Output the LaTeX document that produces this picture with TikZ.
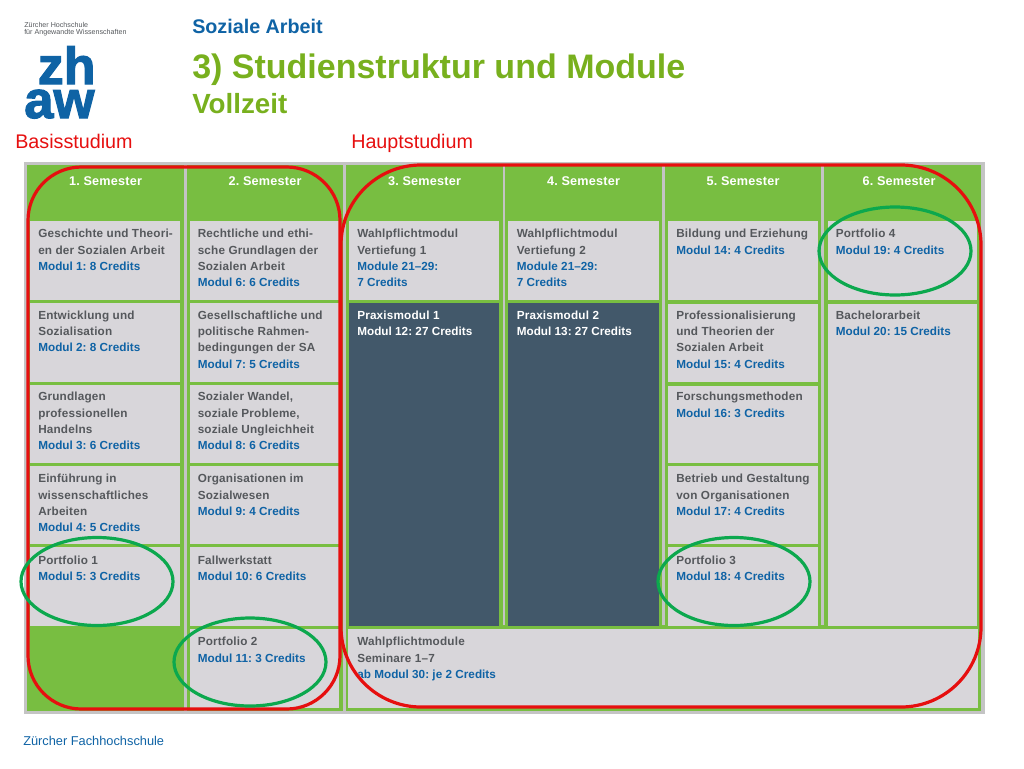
\documentclass[tikz,border=0pt]{standalone}
\usepackage{fontspec}
\setmainfont{Liberation Sans}
\newfontfamily\cellfont[LetterSpace=1.6]{Liberation Sans}
\newfontfamily\creditfont[LetterSpace=0.2]{Liberation Sans}
\newfontfamily\logofont[UprightFont=* Bold, FakeBold=2.2]{Liberation Sans}
\frenchspacing
\definecolor{gridgrey}{HTML}{C4C4C4}
\definecolor{cellgrey}{HTML}{D8D6DA}
\definecolor{headgreen}{HTML}{78BE41}
\definecolor{darkslate}{HTML}{42586A}
\definecolor{zhawblue}{HTML}{0F63A5}
\definecolor{titlegreen}{HTML}{78B01E}
\definecolor{textgrey}{HTML}{55585C}
\definecolor{ringgreen}{HTML}{0CA84E}
\definecolor{ringred}{HTML}{E60F0F}
\tikzset{
    headtext/.style={text=white, font=\cellfont\bfseries\fontsize{9.5}{11}\selectfont, anchor=center},
    celltext/.style={text=textgrey, font=\cellfont\bfseries\fontsize{8.8}{12.25}\selectfont, anchor=north west, align=left, inner sep=0pt},
    darktext/.style={celltext, text=white},
    ring/.style={draw=ringgreen, line width=2.4pt},
    block/.style={draw=ringred, line width=2.4pt},
}
\newcommand{\credits}[1]{{\creditfont\textcolor{zhawblue}{#1}}}
\begin{document}
\begin{tikzpicture}[x=0.75pt, y=-0.75pt]
    \useasboundingbox (0,0) rectangle (1024,768);
    % logo and titles
    \node[text=textgrey, font=\fontsize{5.35}{5.6}\selectfont, anchor=north west, align=left, inner sep=0pt] (school) at (24,22) {Zürcher Hochschule\\für Angewandte Wissenschaften};
    \node[text=zhawblue, font=\logofont\fontsize{39}{39}\selectfont, anchor=base west, inner sep=0pt] (logozh) at (37.5,84) {zh};
    \node[text=zhawblue, font=\logofont\fontsize{39.5}{39.5}\selectfont, anchor=base west, inner sep=0pt] (logoaw) at (24,118) {aw};
    \node[text=zhawblue, font=\bfseries\fontsize{14.8}{18}\selectfont, anchor=base west, inner sep=0pt] (faculty) at (192,33.5) {Soziale Arbeit};
    \node[text=titlegreen, font=\bfseries\fontsize{25.5}{30}\selectfont, anchor=base west, inner sep=0pt] (title) at (192,78) {3) Studienstruktur und Module};
    \node[text=titlegreen, font=\bfseries\fontsize{20.8}{24}\selectfont, anchor=base west, inner sep=0pt] (subtitle) at (192,113) {Vollzeit};
    \node[text=ringred, font=\fontsize{14.8}{18}\selectfont, anchor=base west, inner sep=0pt] (basis) at (15,148) {Basisstudium};
    \node[text=ringred, font=\fontsize{14.8}{18}\selectfont, anchor=base west, inner sep=0pt] (haupt) at (351,148) {Hauptstudium};
    \node[text=zhawblue, font=\fontsize{9.6}{12}\selectfont, anchor=base west, inner sep=0pt] (footer) at (23,745) {Zürcher Fachhochschule};
    % grid
    \fill[gridgrey] (24,162) rectangle (985,714);
    \fill[headgreen] (27,165) rectangle (184,711);
    \fill[headgreen] (187,165) rectangle (343,711);
    \fill[headgreen] (346,165) rectangle (503,711);
    \fill[headgreen] (505,165) rectangle (662,711);
    \fill[headgreen] (665,165) rectangle (821,711);
    \fill[headgreen] (824,165) rectangle (981,711);
    \fill[headgreen] (346,625) rectangle (981,711);
    \node[headtext] (sem1) at (105.5,181) {1. Semester};
    \node[headtext] (sem2) at (265,181) {2. Semester};
    \node[headtext] (sem3) at (424.5,181) {3. Semester};
    \node[headtext] (sem4) at (583.5,181) {4. Semester};
    \node[headtext] (sem5) at (743,181) {5. Semester};
    \node[headtext] (sem6) at (899,181) {6. Semester};
    % cells
    \fill[cellgrey] (30,221) rectangle (180,300);
    \fill[cellgrey] (30,303) rectangle (180,382);
    \fill[cellgrey] (30,385) rectangle (180,463);
    \fill[cellgrey] (30,466) rectangle (180,544);
    \fill[cellgrey] (30,547) rectangle (180,626);
    \fill[cellgrey] (190,221) rectangle (339,300);
    \fill[cellgrey] (190,303) rectangle (339,382);
    \fill[cellgrey] (190,385) rectangle (339,463);
    \fill[cellgrey] (190,466) rectangle (339,544);
    \fill[cellgrey] (190,547) rectangle (339,626);
    \fill[cellgrey] (190,629) rectangle (339,708);
    \fill[cellgrey] (349,221) rectangle (499,300);
    \fill[cellgrey] (508,221) rectangle (659,300);
    \fill[darkslate] (349,303) rectangle (499,626);
    \fill[darkslate] (508,303) rectangle (659,626);
    \fill[cellgrey] (668,221) rectangle (818,300);
    \fill[cellgrey] (668,304) rectangle (818,382);
    \fill[cellgrey] (668,386) rectangle (818,463);
    \fill[cellgrey] (668,466) rectangle (818,544);
    \fill[cellgrey] (668,547) rectangle (818,626);
    \fill[cellgrey] (828,221) rectangle (977,300);
    \fill[cellgrey] (828,304) rectangle (977,626);
    \fill[cellgrey] (348,629) rectangle (978,708);
    % cell texts
    \node[celltext] (mod1) at (38,229) {Geschichte und Theori-\\en der Sozialen Arbeit\\\credits{Modul 1: 8 Credits}};
    \node[celltext] (mod2) at (38,310.5) {Entwicklung und\\Sozialisation\\\credits{Modul 2: 8 Credits}};
    \node[celltext] (mod3) at (38,392) {Grundlagen\\professionellen\\Handelns\\\credits{Modul 3: 6 Credits}};
    \node[celltext] (mod4) at (38,474) {Einführung in\\wissenschaftliches\\Arbeiten\\\credits{Modul 4: 5 Credits}};
    \node[celltext] (mod5) at (38,555.5) {Portfolio 1\\\credits{Modul 5: 3 Credits}};
    \node[celltext] (mod6) at (197.5,229) {Rechtliche und ethi-\\sche Grundlagen der\\Sozialen Arbeit\\\credits{Modul 6: 6 Credits}};
    \node[celltext] (mod7) at (197.5,310.5) {Gesellschaftliche und\\politische Rahmen-\\bedingungen der SA\\\credits{Modul 7: 5 Credits}};
    \node[celltext] (mod8) at (197.5,392) {Sozialer Wandel,\\soziale Probleme,\\soziale Ungleichheit\\\credits{Modul 8: 6 Credits}};
    \node[celltext] (mod9) at (197.5,474) {Organisationen im\\Sozialwesen\\\credits{Modul 9: 4 Credits}};
    \node[celltext] (mod10) at (197.5,555.5) {Fallwerkstatt\\\credits{Modul 10: 6 Credits}};
    \node[celltext] (mod11) at (197.5,637) {Portfolio 2\\\credits{Modul 11: 3 Credits}};
    \node[celltext] (vert1) at (357,229) {Wahlpflichtmodul\\Vertiefung 1\\\credits{Module 21–29:}\\\credits{7 Credits}};
    \node[celltext] (vert2) at (516.5,229) {Wahlpflichtmodul\\Vertiefung 2\\\credits{Module 21–29:}\\\credits{7 Credits}};
    \node[darktext] (mod12) at (357,310.5) {Praxismodul 1\\{\creditfont Modul 12: 27 Credits}};
    \node[darktext] (mod13) at (516.5,310.5) {Praxismodul 2\\{\creditfont Modul 13: 27 Credits}};
    \node[celltext] (mod14) at (676,229) {Bildung und Erziehung\\\credits{Modul 14: 4 Credits}};
    \node[celltext] (mod15) at (676,310.5) {Professionalisierung\\und Theorien der\\Sozialen Arbeit\\\credits{Modul 15: 4 Credits}};
    \node[celltext] (mod16) at (676,392) {Forschungsmethoden\\\credits{Modul 16: 3 Credits}};
    \node[celltext] (mod17) at (676,474) {Betrieb und Gestaltung\\von Organisationen\\\credits{Modul 17: 4 Credits}};
    \node[celltext] (mod18) at (676,555.5) {Portfolio 3\\\credits{Modul 18: 4 Credits}};
    \node[celltext] (mod19) at (835.5,229) {Portfolio 4\\\credits{Modul 19: 4 Credits}};
    \node[celltext] (mod20) at (835.5,310.5) {Bachelorarbeit\\\credits{Modul 20: 15 Credits}};
    \node[celltext] (mod30) at (357,637) {Wahlpflichtmodule\\Seminare 1–7\\\credits{ab Modul 30: je 2 Credits}};
    % marks on top
    \draw[block, rounded corners=40pt] (28,167) rectangle (340,709);
    \draw[block, rounded corners=60pt] (341,165) rectangle (981,707);
    \draw[ring] (97,581.5) ellipse [x radius=76, y radius=44];
    \draw[ring] (250,662) ellipse [x radius=76, y radius=44];
    \draw[ring] (734,581.5) ellipse [x radius=76, y radius=44];
    \draw[ring] (895,251) ellipse [x radius=76, y radius=44];
\end{tikzpicture}
\end{document}
